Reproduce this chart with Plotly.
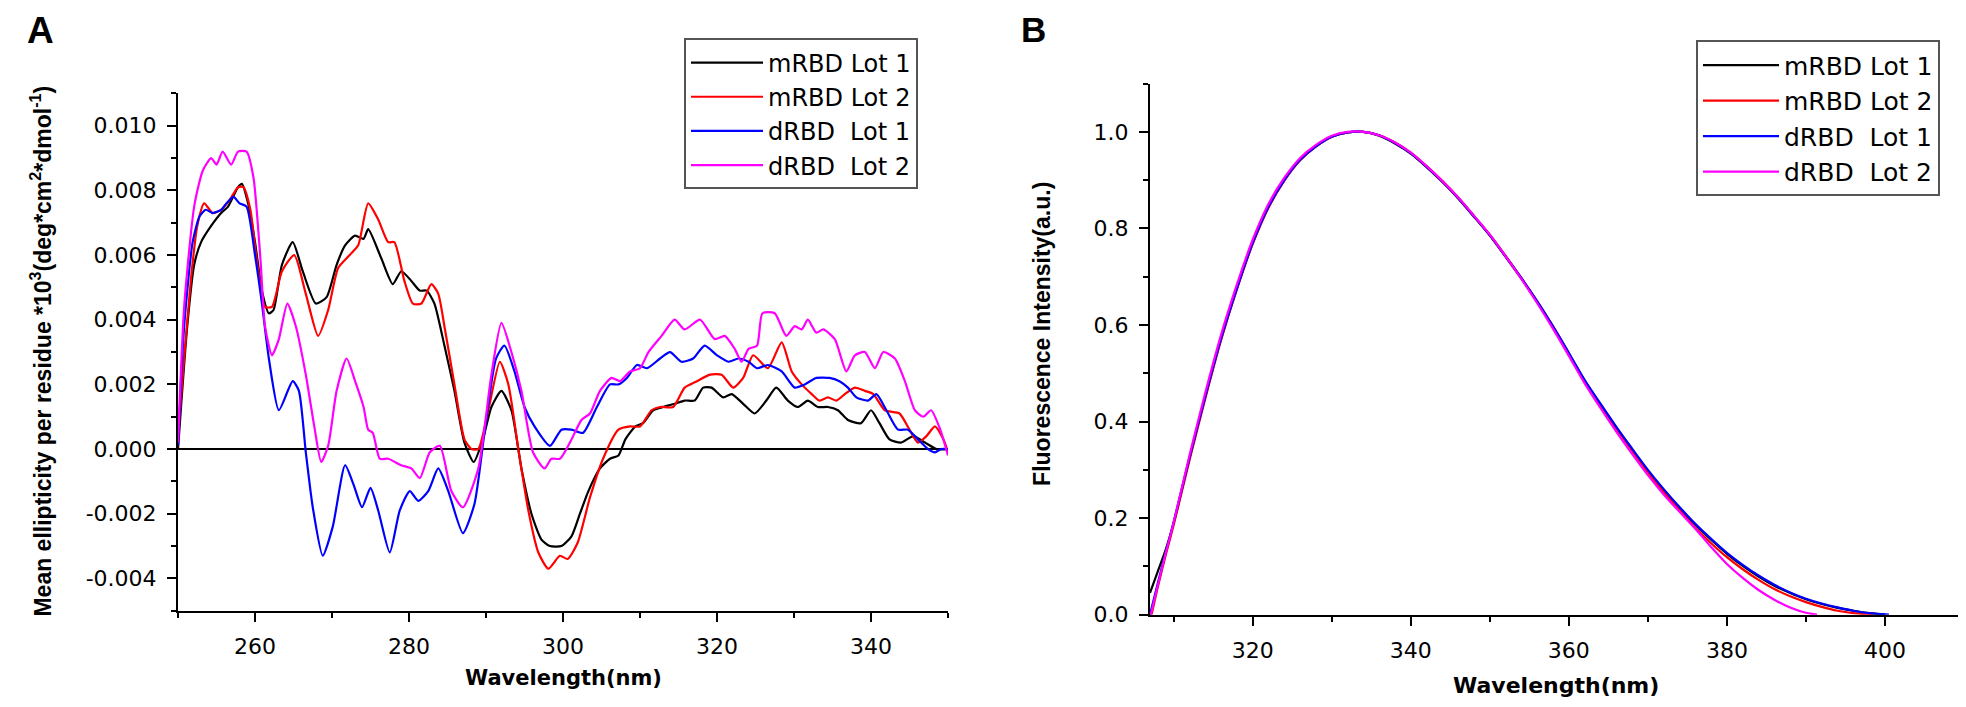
import plotly.graph_objects as go

# ---------------- Panel A: CD spectra ----------------
a_m1_x = [250.0, 251.2, 252.1, 253.0, 254.3, 255.6, 256.5, 257.8, 258.3, 259.1, 260.0, 260.9, 261.8, 262.4,
          263.5, 264.9, 266.2, 267.9, 269.3, 270.6, 271.7, 273.0, 274.1, 274.7, 276.4, 277.9, 279.0, 280.3,
          281.4, 282.3, 283.3, 284.6, 285.9, 287.2, 288.4, 289.6, 290.7, 292.0, 293.3, 294.6, 295.9, 297.2,
          298.3, 299.8, 301.1, 302.2, 303.3, 304.8, 306.1, 307.2, 308.1, 309.4, 310.4, 311.7, 313.0, 314.5,
          315.8, 317.1, 318.2, 319.3, 320.8, 321.9, 323.4, 324.9, 326.4, 327.7, 329.2, 330.5, 331.8, 333.1,
          334.4, 335.7, 337.0, 338.7, 340.0, 341.1, 342.4, 343.9, 345.5, 347.0, 348.5, 350.0]
a_m1_y = [0.0, 0.0038, 0.0057, 0.0064, 0.0069, 0.0073, 0.0075, 0.0081, 0.0082, 0.0076, 0.0064, 0.0049, 0.0042, 0.0043,
          0.0057, 0.0064, 0.0055, 0.0045, 0.0047, 0.0057, 0.0063, 0.0066, 0.0065, 0.0068, 0.0059, 0.0051, 0.0055, 0.0052,
          0.0049, 0.0049, 0.0045, 0.0032, 0.0018, 0.0002, -0.0004, 0.0003, 0.0013, 0.0018, 0.0012, -0.0006, -0.0020, -0.0028,
          -0.0030, -0.0030, -0.0027, -0.0020, -0.0013, -0.0006, -0.0003, -0.0002, 0.0003, 0.0007, 0.0008, 0.0012, 0.0013, 0.0014,
          0.0015, 0.0015, 0.0019, 0.0019, 0.0016, 0.0017, 0.0014, 0.0011, 0.0015, 0.0019, 0.0015, 0.0013, 0.0015, 0.0013,
          0.0013, 0.0012, 0.0009, 0.0008, 0.0012, 0.0008, 0.0003, 0.0002, 0.0004, 0.0002, 0.0000, 0.0000]

a_m2_x = [249.8, 250.8, 251.7, 252.5, 253.4, 254.5, 255.6, 256.7, 257.8, 258.5, 259.4, 260.2, 261.3, 262.2,
          263.5, 265.1, 266.6, 268.2, 269.5, 270.8, 272.3, 273.4, 274.7, 276.0, 277.3, 278.1, 279.4, 280.5,
          281.6, 282.9, 283.8, 284.6, 285.9, 287.2, 288.1, 289.0, 290.3, 291.8, 292.9, 294.2, 295.5, 296.8,
          298.1, 299.6, 300.6, 301.9, 303.5, 305.2, 307.2, 308.7, 310.0, 311.5, 312.6, 314.3, 315.8, 317.4,
          319.1, 320.6, 322.1, 323.4, 324.7, 326.6, 328.4, 329.7, 331.0, 332.3, 333.3, 334.4, 335.5, 336.6,
          337.9, 339.2, 340.3, 341.8, 343.7, 345.0, 346.1, 347.2, 348.3, 349.4, 350.0]
a_m2_y = [-0.0002, 0.0028, 0.0053, 0.0069, 0.0076, 0.0073, 0.0074, 0.0077, 0.0081, 0.0081, 0.0074, 0.0059, 0.0044, 0.0044,
          0.0055, 0.0060, 0.0048, 0.0035, 0.0043, 0.0056, 0.0060, 0.0063, 0.0076, 0.0071, 0.0064, 0.0064, 0.0052, 0.0045,
          0.0045, 0.0051, 0.0048, 0.0038, 0.0020, 0.0003, 0.0000, 0.0000, 0.0012, 0.0027, 0.0020, 0.0000, -0.0019, -0.0032,
          -0.0037, -0.0033, -0.0034, -0.0029, -0.0015, -0.0003, 0.0006, 0.0007, 0.0007, 0.0012, 0.0013, 0.0013, 0.0019, 0.0021,
          0.0023, 0.0023, 0.0019, 0.0022, 0.0029, 0.0025, 0.0033, 0.0024, 0.0020, 0.0017, 0.0015, 0.0016, 0.0015, 0.0017,
          0.0019, 0.0018, 0.0017, 0.0012, 0.0011, 0.0006, 0.0002, 0.0004, 0.0007, 0.0003, -0.0001]

a_d1_x = [250.0, 250.8, 251.9, 252.8, 253.6, 254.5, 255.6, 256.3, 257.2, 258.0, 258.9, 260.0, 260.9, 261.8,
          263.1, 264.9, 265.7, 266.6, 267.5, 268.8, 270.1, 271.7, 272.8, 273.9, 275.0, 276.0, 277.5, 278.8,
          280.1, 281.2, 282.5, 283.8, 285.1, 287.0, 288.5, 289.8, 291.3, 292.4, 293.7, 295.0, 296.3, 298.3,
          299.8, 301.1, 302.6, 304.4, 306.1, 307.2, 308.3, 309.6, 310.9, 312.6, 313.9, 315.4, 316.9, 318.4,
          320.0, 321.5, 322.8, 324.1, 325.2, 326.6, 328.4, 330.1, 331.4, 332.9, 334.6, 335.9, 337.0, 338.1,
          339.6, 340.7, 342.0, 343.5, 344.8, 346.1, 347.4, 348.3, 349.1, 350.0]
a_d1_y = [0.0001, 0.0038, 0.0064, 0.0072, 0.0074, 0.0073, 0.0074, 0.0076, 0.0078, 0.0076, 0.0075, 0.0060, 0.0045, 0.0028,
          0.0012, 0.0021, 0.0018, -0.0001, -0.0018, -0.0033, -0.0024, -0.0005, -0.0011, -0.0018, -0.0012, -0.0019, -0.0032, -0.0019,
          -0.0013, -0.0016, -0.0013, -0.0006, -0.0013, -0.0026, -0.0017, 0.0005, 0.0028, 0.0032, 0.0024, 0.0013, 0.0007, 0.0001,
          0.0006, 0.0006, 0.0005, 0.0013, 0.0020, 0.0020, 0.0022, 0.0026, 0.0025, 0.0028, 0.0030, 0.0027, 0.0028, 0.0032,
          0.0029, 0.0027, 0.0028, 0.0027, 0.0025, 0.0026, 0.0024, 0.0019, 0.0020, 0.0022, 0.0022, 0.0021, 0.0019, 0.0016,
          0.0015, 0.0017, 0.0012, 0.0006, 0.0006, 0.0003, 0.0000, -0.0001, 0.0000, 0.0000]

a_d2_x = [250.0, 250.8, 252.1, 253.2, 254.3, 255.0, 255.8, 256.9, 257.8, 258.9, 259.8, 260.7, 261.3, 262.2,
          263.1, 264.2, 265.3, 266.6, 267.7, 268.6, 269.5, 270.6, 271.9, 273.0, 274.1, 274.7, 275.3, 276.2,
          277.3, 279.0, 280.3, 281.4, 282.7, 284.0, 285.5, 287.0, 289.0, 290.7, 292.0, 293.3, 294.6, 296.1,
          297.6, 298.5, 299.6, 300.9, 302.4, 303.5, 304.8, 306.3, 307.4, 308.7, 310.0, 311.1, 312.8, 314.5,
          315.8, 317.8, 319.7, 321.0, 322.3, 323.2, 324.1, 325.2, 325.9, 327.5, 329.0, 330.1, 331.0, 331.8,
          332.9, 333.8, 335.3, 336.8, 337.9, 339.2, 340.5, 341.6, 343.1, 344.4, 345.7, 346.8, 347.8, 349.0, 350.0]
a_d2_y = [0.0002, 0.0044, 0.0075, 0.0086, 0.0090, 0.0088, 0.0092, 0.0088, 0.0092, 0.0092, 0.0084, 0.0059, 0.0038, 0.0029,
          0.0034, 0.0045, 0.0038, 0.0023, 0.0007, -0.0004, 0.0001, 0.0018, 0.0028, 0.0021, 0.0013, 0.0006, 0.0005, -0.0003,
          -0.0003, -0.0005, -0.0006, -0.0009, -0.0001, 0.0001, -0.0013, -0.0018, -0.0006, 0.0023, 0.0039, 0.0030, 0.0018, -0.0001,
          -0.0006, -0.0003, -0.0003, 0.0002, 0.0009, 0.0011, 0.0018, 0.0022, 0.0021, 0.0024, 0.0025, 0.0030, 0.0035, 0.0040,
          0.0037, 0.0040, 0.0034, 0.0035, 0.0031, 0.0027, 0.0031, 0.0032, 0.0042, 0.0042, 0.0035, 0.0038, 0.0037, 0.0040,
          0.0036, 0.0037, 0.0034, 0.0024, 0.0029, 0.0030, 0.0025, 0.0030, 0.0028, 0.0021, 0.0012, 0.0010, 0.0012, 0.0006, -0.0002]

a_ytick_vals = [-0.004, -0.002, 0.0, 0.002, 0.004, 0.006, 0.008, 0.010]
a_ytick_text = ["-0.004", "-0.002", "0.000", "0.002", "0.004", "0.006", "0.008", "0.010"]

# ---------------- Panel B: fluorescence spectra ----------------
b_m1_x = [307, 308, 309, 310, 312, 314, 316, 318, 320, 322, 324, 326, 328, 330, 332, 334, 336, 338, 340, 342,
          344, 346, 348, 350, 352, 354, 356, 358, 360, 362, 364, 366, 368, 370, 372, 374, 376, 378, 380, 382,
          384, 386, 388, 390, 392, 394, 396, 398, 400]
b_m1_y = [0.045, 0.09, 0.135, 0.19, 0.325, 0.452, 0.572, 0.676, 0.77, 0.845, 0.90, 0.942, 0.970, 0.99, 0.999, 1.0,
          0.992, 0.976, 0.955, 0.927, 0.896, 0.862, 0.824, 0.785, 0.741, 0.696, 0.648, 0.596, 0.541, 0.485, 0.435,
          0.388, 0.342, 0.298, 0.258, 0.221, 0.186, 0.155, 0.126, 0.101, 0.079, 0.060, 0.045, 0.032, 0.022, 0.014,
          0.008, 0.003, 0.0]

b_m2_x = [307.2, 308, 309, 310, 312, 314, 316, 318, 320, 322, 324, 326, 328, 330, 332, 334, 336, 338, 340, 342,
          344, 346, 348, 350, 352, 354, 356, 358, 360, 362, 364, 366, 368, 370, 372, 374, 376, 378, 380, 382,
          384, 386, 388, 390, 392, 394, 396, 398.5]
b_m2_y = [0.0, 0.058, 0.124, 0.186, 0.32, 0.448, 0.569, 0.674, 0.768, 0.843, 0.899, 0.941, 0.970, 0.99, 0.999, 1.0,
          0.993, 0.978, 0.957, 0.929, 0.898, 0.864, 0.826, 0.787, 0.743, 0.697, 0.649, 0.597, 0.541, 0.484, 0.434,
          0.386, 0.340, 0.295, 0.254, 0.216, 0.180, 0.148, 0.119, 0.094, 0.072, 0.053, 0.038, 0.026, 0.016, 0.008,
          0.003, 0.0]

b_d1_x = [307, 308, 309, 310, 312, 314, 316, 318, 320, 322, 324, 326, 328, 330, 332, 334, 336, 338, 340, 342,
          344, 346, 348, 350, 352, 354, 356, 358, 360, 362, 364, 366, 368, 370, 372, 374, 376, 378, 380, 382,
          384, 386, 388, 390, 392, 394, 396, 398, 400.5]
b_d1_y = [0.0, 0.066, 0.13, 0.192, 0.325, 0.452, 0.572, 0.676, 0.77, 0.845, 0.90, 0.942, 0.970, 0.99, 0.999, 1.0,
          0.993, 0.977, 0.956, 0.928, 0.897, 0.863, 0.825, 0.786, 0.742, 0.697, 0.649, 0.597, 0.542, 0.486, 0.437,
          0.389, 0.344, 0.300, 0.260, 0.223, 0.188, 0.157, 0.128, 0.103, 0.081, 0.062, 0.046, 0.033, 0.023, 0.015,
          0.008, 0.003, 0.0]

b_d2_x = [307.1, 308, 309, 310, 312, 314, 316, 318, 320, 322, 324, 326, 328, 330, 332, 334, 336, 338, 340, 342,
          344, 346, 348, 350, 352, 354, 356, 358, 360, 362, 364, 366, 368, 370, 372, 374, 376, 378, 380, 382,
          384, 386, 388, 390, 391.4]
b_d2_y = [0.0, 0.062, 0.128, 0.192, 0.33, 0.46, 0.58, 0.684, 0.777, 0.851, 0.905, 0.946, 0.973, 0.992, 1.0, 1.0,
          0.993, 0.978, 0.957, 0.929, 0.898, 0.864, 0.826, 0.787, 0.742, 0.695, 0.645, 0.592, 0.536, 0.479, 0.428,
          0.379, 0.333, 0.289, 0.249, 0.213, 0.178, 0.14, 0.105, 0.076, 0.051, 0.031, 0.015, 0.004, 0.0]

names = ["mRBD Lot 1", "mRBD Lot 2", "dRBD\u00a0 Lot 1", "dRBD\u00a0 Lot 2"]
colors = ["#000000", "#FF0000", "#0000FF", "#FF00FF"]

W, H = 1966, 707
A_X = (170 / W, 940 / W)
A_Y = (1 - 614 / H, 1 - 87 / H)
B_X = (1142 / W, 1956 / W)
B_Y = (1 - 618 / H, 1 - 77 / H)

TICKFONT = dict(family="DejaVu Sans", size=22, color="black")

fig = go.Figure()

a_series = [(a_m1_x, a_m1_y), (a_m2_x, a_m2_y), (a_d1_x, a_d1_y), (a_d2_x, a_d2_y)]
for (xs, ys), nm, c in zip(a_series, names, colors):
    fig.add_trace(go.Scatter(x=xs, y=ys, name=nm, mode="lines",
                             line=dict(color=c, width=2.2, shape="spline", smoothing=0.6),
                             xaxis="x", yaxis="y", legend="legend"))

b_series = [(b_m1_x, b_m1_y), (b_m2_x, b_m2_y), (b_d1_x, b_d1_y), (b_d2_x, b_d2_y)]
for (xs, ys), nm, c in zip(b_series, names, colors):
    fig.add_trace(go.Scatter(x=xs, y=ys, name=nm, mode="lines",
                             line=dict(color=c, width=2.2, shape="spline", smoothing=0.8),
                             xaxis="x2", yaxis="y2", legend="legend2"))

axis_common = dict(showgrid=False, showline=True, linecolor="black", linewidth=2,
                   ticks="outside", ticklen=9, tickwidth=2, tickcolor="black",
                   tickfont=TICKFONT, mirror=False)

fig.update_layout(
    width=W, height=H, autosize=False,
    margin=dict(l=0, r=0, t=0, b=0),
    paper_bgcolor="white", plot_bgcolor="white",
    xaxis=dict(domain=A_X, anchor="y", range=[250, 350], tick0=260, dtick=20, zeroline=False,
               ticklabelstandoff=6,
               minor=dict(tick0=250, dtick=10, ticks="outside", ticklen=5, tickwidth=2, tickcolor="black"),
               **axis_common),
    yaxis=dict(domain=A_Y, anchor="x", range=[-0.005, 0.011], tickvals=a_ytick_vals, ticktext=a_ytick_text,
               zeroline=True, zerolinecolor="black", zerolinewidth=2, ticklabelstandoff=6,
               minor=dict(tick0=0, dtick=0.001, ticks="outside", ticklen=5, tickwidth=2, tickcolor="black"),
               **axis_common),
    xaxis2=dict(domain=B_X, anchor="y2", range=[307, 410], tick0=320, dtick=20, zeroline=False,
                ticklabelstandoff=6,
                minor=dict(tick0=310, dtick=10, ticks="outside", ticklen=5, tickwidth=2, tickcolor="black"),
                **axis_common),
    yaxis2=dict(domain=B_Y, anchor="x2", range=[0, 1.1], tick0=0, dtick=0.2, tickformat=".1f",
                zeroline=False, ticklabelstandoff=6,
                minor=dict(tick0=0, dtick=0.1, ticks="outside", ticklen=5, tickwidth=2, tickcolor="black"),
                **axis_common),
    legend=dict(x=676 / W, y=1 - 31 / H, xanchor="left", yanchor="top",
                bgcolor="white", bordercolor="#555555", borderwidth=2,
                font=dict(family="DejaVu Sans", size=24, color="black"),
                itemwidth=72, tracegroupgap=0),
    legend2=dict(x=1688 / W, y=1 - 33 / H, xanchor="left", yanchor="top",
                 bgcolor="white", bordercolor="#555555", borderwidth=2,
                 font=dict(family="DejaVu Sans", size=25, color="black"),
                 itemwidth=76, tracegroupgap=0),
    showlegend=True,
)

ann = [
    dict(text="<b>Wavelength(nm)</b>", x=555 / W, y=1 - 683 / H, yanchor="middle",
         font=dict(family="DejaVu Sans", size=21)),
    dict(text="<b>Wavelength(nm)</b>", x=1548 / W, y=1 - 690 / H, yanchor="middle",
         font=dict(family="DejaVu Sans", size=22)),
    dict(text="<b>Mean ellipticity per residue *10<sup>3</sup>(deg*cm<sup>2</sup>*dmol<sup>-1</sup>)</b>",
         x=33 / W, y=1 - 350 / H, yanchor="middle", textangle=-90, font=dict(family="Liberation Sans", size=23)),
    dict(text="<b>Fluorescence Intensity(a.u.)</b>", x=1034 / W, y=1 - 332 / H, yanchor="middle", textangle=-90,
         font=dict(family="Liberation Sans", size=23)),
    dict(text="<b>A</b>", x=32 / W, y=1.0, yanchor="top", font=dict(family="Liberation Sans", size=37)),
    dict(text="<b>B</b>", x=1025 / W, y=1.0, yanchor="top", font=dict(family="Liberation Sans", size=35)),
]
for a in ann:
    a.update(xref="paper", yref="paper", showarrow=False, xanchor="center")
    a["font"]["color"] = "black"
    fig.add_annotation(**a)

fig.write_html("out.html")
